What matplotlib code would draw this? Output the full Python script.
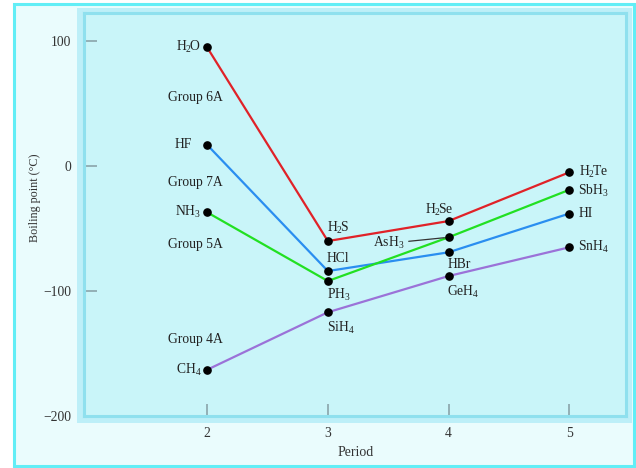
import matplotlib
matplotlib.use("Agg")
import matplotlib.pyplot as plt
from matplotlib.patches import Rectangle

plt.rcParams['font.family'] = ['Liberation Serif', 'DejaVu Serif']
plt.rcParams['mathtext.fontset'] = 'custom'
plt.rcParams['mathtext.rm'] = 'Liberation Serif'
plt.rcParams['mathtext.it'] = 'Liberation Serif'

periods = [2, 3, 4, 5]
group6A = [95, -60, -44, -5]
group7A = [17, -84, -69, -38]
group5A = [-37, -92, -57, -19]
group4A = [-163, -117, -88, -65]

names6A = [r'$\mathregular{H_2\!O}$', r'$\mathregular{H_2\!S}$', r'$\mathregular{H_2\!Se}$', r'$\mathregular{H_2\!Te}$']
names7A = ['HF', 'HCl', 'HBr', 'HI']
names5A = [r'$\mathregular{NH_3}$', r'$\mathregular{PH_3}$', r'$\mathregular{AsH_3}$', r'$\mathregular{SbH_3}$']
names4A = [r'$\mathregular{CH_4}$', r'$\mathregular{SiH_4}$', r'$\mathregular{GeH_4}$', r'$\mathregular{SnH_4}$']

group_names = ['Group 6A', 'Group 7A', 'Group 5A', 'Group 4A']
group_label_y = [55, -13, -63, -139]

colors = ['#e02228', '#2a8ef0', '#22e022', '#9b72d8']

yticks = [100, 0, -100, -200]
xticks = [2, 3, 4, 5]

W, H = 636, 468
fig = plt.figure(figsize=(W / 100, H / 100), dpi=100)
fig.patch.set_facecolor('white')

def fx(px):
    return px / W

def fy(py):
    return 1 - py / H

# outer frame
fig.patches.append(Rectangle((fx(14), fy(466)), fx(634) - fx(14), fy(3.5) - fy(466),
                             transform=fig.transFigure, facecolor='#eafcfd',
                             edgecolor='#62eef6', linewidth=2.2, zorder=-2))
# light band around panel
fig.patches.append(Rectangle((fx(77), fy(423)), fx(632) - fx(77), fy(8) - fy(423),
                             transform=fig.transFigure, facecolor='#bdeff8',
                             edgecolor='none', zorder=-1))

L, R, T, B = 84, 626, 13, 416
ax = fig.add_axes([fx(L), fy(B), fx(R) - fx(L), fy(T) - fy(B)])
ax.set_zorder(2)
ax.set_facecolor('#c9f5f9')
for s in ax.spines.values():
    s.set_color('#8fe0ee')
    s.set_linewidth(2.2)

ax.set_xlim(0.98, 5.47)
ax.set_ylim(-200, 122.5)

series = [group6A, group7A, group5A, group4A]
for vals, c in zip(series, colors):
    ax.plot(periods, vals, color=c, lw=1.6, zorder=2)
    ax.plot(periods, vals, 'o', color='black', ms=5.2, zorder=3)

tk = dict(textcoords='offset points', fontsize=9.8, color='#222222', va='center')
px = 0.72

def lab(name, x, y, dx, dy, ha='left', **kw):
    ax.annotate(name, (x, y), xytext=(dx * px, dy * px), ha=ha, **tk, **kw)

# period 2 (left of dots)
lab(names6A[0], 2, group6A[0], -7, 0, 'right')
lab(names7A[0], 2, group7A[0], -15, 0, 'right')
lab(names5A[0], 2, group5A[0], -6, 0, 'right')
lab(names4A[0], 2, group4A[0], -6, 0, 'right')
# period 3
lab(names6A[1], 3, group6A[1], -1, 13)
lab(names7A[1], 3, group7A[1], -1, 13)
lab(names5A[1], 3, group5A[1], -1, -14)
lab(names4A[1], 3, group4A[1], -1, -16)
# period 4
lab(names6A[2], 4, group6A[2], -24, 11)
lab(names7A[2], 4, group7A[2], -1, -12)
lab(names4A[2], 4, group4A[2], -2, -16)
ax.annotate(names5A[2], (4, group5A[2]), xytext=(-44 * px, -6 * px), ha='right',
            arrowprops=dict(arrowstyle='-', color='#333333', lw=0.9,
                            shrinkA=1, shrinkB=3), **tk)
# period 5
lab(names6A[3], 5, group6A[3], 10, 0)
lab(names5A[3], 5, group5A[3], 9, -1)
lab(names7A[3], 5, group7A[3], 9, 0)
lab(names4A[3], 5, group4A[3], 9, 0)

for g, y in zip(group_names, group_label_y):
    ax.text(1.677, y, g, fontsize=9.8, color='#222222', va='center', ha='left')

ax.set_yticks(yticks)
ax.set_yticklabels(['100', '0', '\u2212100', '\u2212200'])
ax.set_xticks(xticks)
ax.tick_params(axis='both', direction='in', length=9, width=1.2, color='#8aa4aa',
               labelsize=9.8, labelcolor='#333333')
ax.tick_params(axis='y', pad=9)
ax.tick_params(axis='x', pad=8)

fig.text(fx(35), fy(198), 'Boiling point (\u00b0C)', rotation=90, ha='center',
         va='center', fontsize=8.7, color='#333333')
fig.text(fx(356), fy(452), 'Period', ha='center', va='center', fontsize=10,
         color='#333333')

fig.savefig('out.png', dpi=100)
